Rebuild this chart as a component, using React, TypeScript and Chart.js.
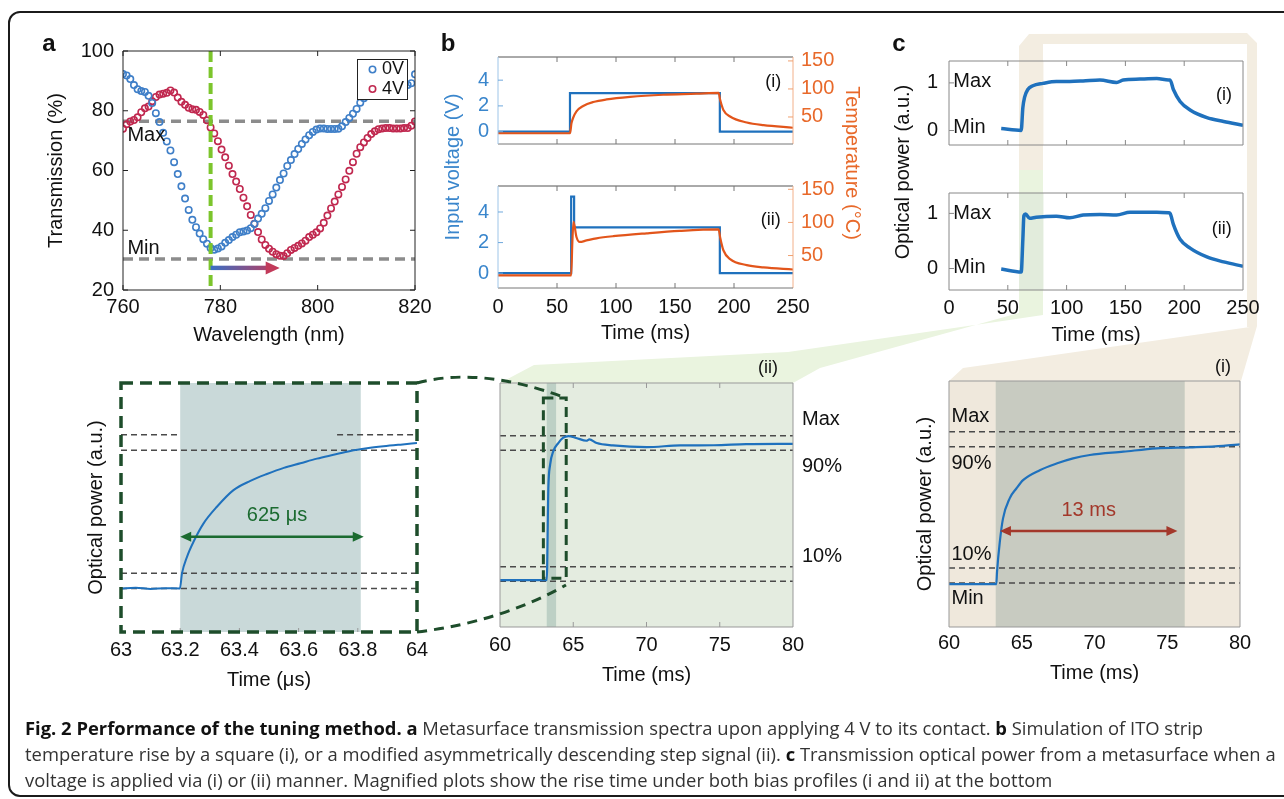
import React, { useEffect, useRef } from 'react';
import { Chart, registerables } from 'chart.js';
Chart.register(...registerables);

// ================= DATA =================
// Panel a: transmission spectra
const WAVELENGTH_NM = [
  760, 760.75, 761.5, 762.25, 763, 763.75, 764.5, 765.25, 766, 766.75,
  767.5, 768.25, 769, 769.75, 770.5, 771.25, 772, 772.75, 773.5, 774.25,
  775, 775.75, 776.5, 777.25, 778, 778.75, 779.5, 780.25, 781, 781.75,
  782.5, 783.25, 784, 784.75, 785.5, 786.25, 787, 787.75, 788.5, 789.25,
  790, 790.75, 791.5, 792.25, 793, 793.75, 794.5, 795.25, 796, 796.75,
  797.5, 798.25, 799, 799.75, 800.5, 801.25, 802, 802.75, 803.5, 804.25,
  805, 805.75, 806.5, 807.25, 808, 808.75, 809.5, 810.25, 811, 811.75,
  812.5, 813.25, 814, 814.75, 815.5, 816.25, 817, 817.75, 818.5, 819.25,
  820,
];
const T_0V = [
  92.3, 91.8, 90.6, 88.6, 87.2, 86.6, 86.3, 85.0, 82.6, 79.2,
  76.2, 72.6, 69.7, 66.7, 62.8, 58.8, 54.7, 50.6, 46.8, 43.5,
  41.0, 38.9, 37.0, 35.5, 34.1, 33.5, 33.9, 34.6, 35.8, 36.7,
  37.7, 38.5, 39.3, 39.6, 39.9, 40.7, 42.1, 43.9, 45.5, 47.4,
  49.8, 52.0, 54.3, 56.8, 59.0, 61.5, 63.5, 65.5, 67.2, 68.9,
  70.4, 71.8, 72.9, 73.7, 74.1, 74.1, 73.9, 73.9, 73.9, 74.0,
  74.8, 76.2, 77.6, 79.0, 80.6, 82.7, 84.2, 85.0, 85.8, 86.4,
  86.8, 87.2, 87.5, 87.8, 88.0, 88.2, 88.3, 88.5, 88.6, 89.2,
  92.2,
];
const T_4V = [
  74.0, 75.5, 76.4, 76.9, 77.8, 79.5, 80.8, 81.4, 83.2, 84.6,
  85.4, 85.7, 86.0, 86.8, 86.1, 84.4, 83.0, 82.0, 81.0, 80.5,
  80.3, 79.6, 78.6, 76.8, 74.4, 72.4, 69.8, 67.0, 64.4, 61.6,
  58.8, 56.3, 53.8, 50.9, 48.0, 45.1, 42.2, 39.4, 36.9, 35.1,
  33.8, 32.8, 32.0, 31.5, 31.4, 32.3, 33.4, 34.1, 34.8, 35.6,
  36.5, 37.7, 38.5, 39.3, 40.6, 42.5, 44.9, 47.3, 49.6, 52.0,
  54.5, 57.0, 59.9, 62.8, 65.6, 67.8, 69.4, 70.9, 72.2, 73.1,
  73.8, 74.1, 74.2, 74.2, 74.1, 74.1, 74.1, 74.2, 74.2, 75.0,
  76.4,
];
const SERIES_A = ['0V', '4V'];
const A_MAX_LEVEL = 76.5;
const A_MIN_LEVEL = 30.4;
const A_MARK_WL = 778;
const A_SHIFT_WL = 792.2;
const A_ARROW_T = 27.4;
const A_X_TICKS = [760, 780, 800, 820];
const A_Y_TICKS = [20, 40, 60, 80, 100];

// Panel b: simulated voltage / temperature
const B1_V_TIME = [0, 61, 61, 188, 188, 250];
const B1_VOLT = [0, 0, 3, 3, 0, 0];
const B1_T_TIME = [0, 61, 62.3, 63.7, 66.5, 72.2, 80.7, 92, 111.8, 140, 168, 187, 188.2, 191, 196.7, 210.8, 225, 250];
const B1_TEMP = [21, 21, 39, 48.6, 60, 69.6, 76.6, 81.3, 85.9, 89.7, 91.5, 93, 81, 62.6, 50.8, 40.2, 35.4, 30.8];
const B2_V_TIME = [0, 62, 62, 64.5, 64.5, 188, 188, 250];
const B2_VOLT = [0, 0, 5, 5, 3, 3, 0, 0];
const B2_T_TIME = [0, 62, 63, 64, 66.5, 69.3, 75, 83.5, 97.6, 126, 154, 187, 188.2, 191, 196.7, 210.8, 225, 250];
const B2_TEMP = [20, 20, 70, 101, 78, 70.5, 72.8, 76, 79.2, 83.6, 87.2, 89.4, 78, 58, 44.6, 35.6, 32.1, 28.9];
const TIME_TICKS = [0, 50, 100, 150, 200, 250];
const VOLT_TICKS = [0, 2, 4];
const TEMP_TICKS = [50, 100, 150];

// Panel c: measured optical power
const C1_TIME = [44.4, 61.4, 62.8, 64.3, 67, 71.3, 79.9, 91.3, 102.7, 114, 128.3, 142.5, 148.1, 162.4, 176.7, 186.6, 188, 190.8, 196.5, 205, 219.3, 233.5, 250];
const C1_POWER = [0.04, 0, 0.48, 0.7, 0.86, 0.94, 0.99, 1.03, 1.03, 1.04, 1.06, 1.01, 1.06, 1.08, 1.09, 1.06, 1.06, 0.86, 0.61, 0.43, 0.27, 0.19, 0.11];
const C2_TIME = [44.4, 61.4, 62.8, 63.7, 65.1, 68.5, 74.2, 91.3, 102.7, 114, 128.3, 142.5, 153.9, 176.7, 186.6, 188, 190.8, 196.5, 205, 219.3, 233.5, 250];
const C2_POWER = [-0.01, -0.065, 0.53, 0.96, 0.99, 0.91, 0.93, 0.95, 0.92, 0.97, 0.98, 0.97, 1.02, 1.02, 1.01, 1.0, 0.8, 0.53, 0.37, 0.21, 0.12, 0.04];
const C_BAND = [59.6, 80.3];
const POWER_TICKS = [0, 1];

// Bottom magnified plots
const D_TIME_US = [63, 63.05, 63.1, 63.15, 63.199, 63.206, 63.223, 63.245, 63.279, 63.324, 63.38, 63.437, 63.493, 63.55, 63.606, 63.662, 63.718, 63.775, 63.831, 63.887, 63.944, 64];
const D_POWER = [0.0, 0.005, -0.003, 0.002, 0.0, 0.098, 0.206, 0.304, 0.424, 0.532, 0.64, 0.70, 0.745, 0.785, 0.815, 0.845, 0.87, 0.895, 0.912, 0.925, 0.936, 0.946];
const D_X_TICKS = [63, 63.2, 63.4, 63.6, 63.8, 64];
const D_BAND = [63.2, 63.81];
const D_ARROW = [63.2, 63.82, 0.337];
const D_LABEL = '625 μs';

const E_TIME = [60, 63.19, 63.3, 63.42, 63.64, 63.98, 64.3, 64.67, 65.2, 65.9, 66.1, 66.6, 67.7, 70, 72.3, 74.6, 76.8, 80];
const E_POWER = [0.007, 0.007, 0.64, 0.8, 0.894, 0.95, 0.985, 0.997, 0.985, 0.966, 0.975, 0.95, 0.934, 0.922, 0.934, 0.935, 0.943, 0.945];
const E_BAND = [63.19, 63.83];
const E_INSET = [62.96, 64.52, 0.02, 1.26];

const F_TIME = [60, 63.25, 63.3, 63.49, 63.71, 64.17, 64.63, 65.09, 66.24, 67.39, 68.53, 69.68, 71.98, 74.27, 76.56, 78.85, 80];
const F_POWER = [-0.007, -0.007, 0.073, 0.27, 0.426, 0.56, 0.625, 0.68, 0.746, 0.79, 0.824, 0.846, 0.868, 0.89, 0.897, 0.907, 0.917];
const F_BAND = [63.21, 76.2];
const F_ARROW = [63.5, 75.7, 0.344];
const F_LABEL = '13 ms';

const ZOOM_X_TICKS = [60, 65, 70, 75, 80];
const RISE_LEVELS = [1, 0.9, 0.1, 0];
const RISE_LABELS = ['Max', '90%', '10%', 'Min'];

// ================= STYLE =================
const FONT = '"Liberation Sans", Arial, Helvetica, sans-serif';
const BLUE_PT = '#3f7fc8';
const RED_PT = '#c0284f';
const BLUE_LINE = '#1f71bd';
const ORANGE_LINE = '#e2551b';
const BLUE_TXT = '#3a86cc';
const ORANGE_TXT = '#e8692a';
const DARK_GREEN = '#1e4d2b';

const zip = (xs: number[], ys: number[]) => xs.map((x, i) => ({ x, y: ys[i] }));

function sc(o: any) {
  const isX = o.axis === 'x';
  return {
    type: 'linear',
    axis: o.axis,
    position: o.position,
    min: o.min,
    max: o.max,
    grid: { display: false, drawTicks: false },
    border: { display: false },
    afterBuildTicks: (s: any) => {
      s.ticks = o.ticks.map((v: number) => ({ value: v }));
    },
    afterFit: (s: any) => {
      if (isX) s.height = o.size;
      else s.width = o.size;
    },
    ticks: {
      display: !!o.labels,
      color: o.color || '#111',
      font: { family: FONT, size: 20 },
      padding: o.pad ?? 6,
      maxRotation: 0,
      minRotation: 0,
      autoSkip: false,
      callback: (v: number) => String(v),
    },
    title: o.title
      ? {
          display: true,
          text: o.title,
          color: o.color || '#111',
          font: { family: FONT, size: 20 },
          padding: isX ? { top: 0, bottom: o.titlePad ?? 0 } : { top: o.titlePad ?? 0, bottom: 0 },
        }
      : { display: false },
  };
}

// drawing helpers
function seg(ctx: any, x0: number, y0: number, x1: number, y1: number, color: string, width: number, dash: number[] = []) {
  ctx.save();
  ctx.strokeStyle = color;
  ctx.lineWidth = width;
  ctx.setLineDash(dash);
  ctx.beginPath();
  ctx.moveTo(x0, y0);
  ctx.lineTo(x1, y1);
  ctx.stroke();
  ctx.restore();
}
function head(ctx: any, x: number, y: number, dir: number, color: string, len: number, half: number) {
  ctx.save();
  ctx.fillStyle = color;
  ctx.beginPath();
  ctx.moveTo(x, y);
  ctx.lineTo(x - dir * len, y - half);
  ctx.lineTo(x - dir * len, y + half);
  ctx.closePath();
  ctx.fill();
  ctx.restore();
}
function dblArrow(chart: any, spec: number[], color: string) {
  const ctx = chart.ctx;
  const s = chart.scales;
  const x0 = s.x.getPixelForValue(spec[0]);
  const x1 = s.x.getPixelForValue(spec[1]);
  const y = s.y.getPixelForValue(spec[2]);
  seg(ctx, x0 + 8, y, x1 - 8, y, color, 2.5);
  head(ctx, x0, y, -1, color, 11, 5);
  head(ctx, x1, y, 1, color, 11, 5);
}
function txt(ctx: any, str: string, x: number, y: number, o: any = {}) {
  ctx.save();
  ctx.font = `${o.bold ? 'bold ' : ''}${o.size || 20}px ${FONT}`;
  ctx.fillStyle = o.color || '#111';
  ctx.textAlign = o.align || 'left';
  ctx.textBaseline = 'middle';
  ctx.fillText(str, x, y);
  ctx.restore();
}
function vtxt(chart: any, str: string, xv: number, yv: number, o: any = {}, yAxis = 'y') {
  const s = chart.scales;
  txt(chart.ctx, str, s.x.getPixelForValue(xv), s[yAxis].getPixelForValue(yv), o);
}
function frame(chart: any, col: any, w = 1) {
  const a = chart.chartArea;
  const ctx = chart.ctx;
  seg(ctx, a.left, a.top, a.right, a.top, col.t, w);
  seg(ctx, a.right, a.top, a.right, a.bottom, col.r, w);
  seg(ctx, a.left, a.bottom, a.right, a.bottom, col.b, w);
  seg(ctx, a.left, a.top, a.left, a.bottom, col.l, w);
}
function xTicks(chart: any, vals: number[], len: number, color: string, top: boolean, bottom: boolean) {
  const a = chart.chartArea;
  const s = chart.scales.x;
  vals.forEach((v) => {
    const x = s.getPixelForValue(v);
    if (bottom) seg(chart.ctx, x, a.bottom, x, a.bottom - len, color, 1);
    if (top) seg(chart.ctx, x, a.top, x, a.top + len, color, 1);
  });
}
function yTicks(chart: any, axis: string, vals: number[], len: number, color: string, side: string) {
  const a = chart.chartArea;
  const s = chart.scales[axis];
  vals.forEach((v) => {
    const y = s.getPixelForValue(v);
    if (side === 'left' || side === 'both') seg(chart.ctx, a.left, y, a.left + len, y, color, 1);
    if (side === 'right' || side === 'both') seg(chart.ctx, a.right, y, a.right - len, y, color, 1);
  });
}
function band(chart: any, x0: number, x1: number, color: string) {
  const a = chart.chartArea;
  const s = chart.scales.x;
  const p0 = s.getPixelForValue(x0);
  const p1 = s.getPixelForValue(x1);
  chart.ctx.save();
  chart.ctx.fillStyle = color;
  chart.ctx.fillRect(p0, a.top, p1 - p0, a.bottom - a.top);
  chart.ctx.restore();
}
function bg(chart: any, color: string) {
  const a = chart.chartArea;
  chart.ctx.save();
  chart.ctx.fillStyle = color;
  chart.ctx.fillRect(a.left, a.top, a.right - a.left, a.bottom - a.top);
  chart.ctx.restore();
}
function hlevel(chart: any, y: number, x0: number, x1: number, color: string, w: number, dash: number[]) {
  const s = chart.scales;
  const py = s.y.getPixelForValue(y);
  seg(chart.ctx, s.x.getPixelForValue(x0), py, s.x.getPixelForValue(x1), py, color, w, dash);
}

const LEVEL_COLOR = '#4a4a4a';
const LEVEL_DASH = [6, 4];

// ================= CHART SPECS =================
type Spec = any;

const specA: Spec = {
  C: { x0: 20, y0: 30, x1: 440, y1: 352 },
  P: { l: 123, t: 49, r: 415, b: 290 },
  type: 'scatter',
  x: { min: 760, max: 820, ticks: A_X_TICKS, labels: true, pad: 5, title: 'Wavelength (nm)', titlePad: 5 },
  y: { min: 20, max: 100, ticks: A_Y_TICKS, labels: true, pad: 9, title: 'Transmission (%)', titlePad: 24 },
  datasets: [
    {
      label: SERIES_A[0], data: zip(WAVELENGTH_NM, T_0V), pointRadius: 3.2, pointBorderWidth: 1.6,
      pointBorderColor: BLUE_PT, borderColor: BLUE_PT, pointBackgroundColor: 'rgba(0,0,0,0)', backgroundColor: 'rgba(0,0,0,0)', showLine: false,
    },
    {
      label: SERIES_A[1], data: zip(WAVELENGTH_NM, T_4V), pointRadius: 3.2, pointBorderWidth: 1.6,
      pointBorderColor: RED_PT, borderColor: RED_PT, pointBackgroundColor: 'rgba(0,0,0,0)', backgroundColor: 'rgba(0,0,0,0)', showLine: false,
    },
  ],
  deco: (chart: any, phase: string) => {
    const ctx = chart.ctx;
    const a = chart.chartArea;
    const s = chart.scales;
    if (phase === 'before') {
      hlevel(chart, A_MAX_LEVEL, 760, 820, '#8c8c8c', 3.5, [10, 6]);
      hlevel(chart, A_MIN_LEVEL, 760, 820, '#8c8c8c', 3.5, [10, 6]);
      return;
    }
    const gx = s.x.getPixelForValue(A_MARK_WL);
    seg(ctx, gx, a.top, gx, a.bottom, '#7cc52c', 4, [11, 5]);
    const ay = s.y.getPixelForValue(A_ARROW_T);
    const ax0 = s.x.getPixelForValue(A_MARK_WL);
    const ax1 = s.x.getPixelForValue(A_SHIFT_WL);
    const g = ctx.createLinearGradient(ax0, 0, ax1, 0);
    g.addColorStop(0, '#3a6fc4');
    g.addColorStop(1, '#c23a5a');
    ctx.save();
    ctx.fillStyle = g;
    ctx.fillRect(ax0, ay - 2.2, ax1 - ax0 - 12, 4.4);
    ctx.restore();
    head(ctx, ax1, ay, 1, '#c23a5a', 14, 6.5);
    vtxt(chart, 'Max', 760.9, 71.8);
    vtxt(chart, 'Min', 760.9, 33.8);
    // legend
    const lx = a.right - 58;
    const ly = a.top + 8;
    ctx.save();
    ctx.fillStyle = '#fff';
    ctx.fillRect(lx, ly, 50, 40);
    ctx.strokeStyle = '#222';
    ctx.lineWidth = 1;
    ctx.strokeRect(lx + 0.5, ly + 0.5, 50, 40);
    [BLUE_PT, RED_PT].forEach((c, i) => {
      const cy = ly + 10.5 + i * 19.5;
      ctx.beginPath();
      ctx.arc(lx + 15.5, cy, 3.2, 0, Math.PI * 2);
      ctx.strokeStyle = c;
      ctx.lineWidth = 1.6;
      ctx.stroke();
      txt(ctx, SERIES_A[i], lx + 25, cy, { size: 18 });
    });
    ctx.restore();
    frame(chart, { t: '#222', r: '#222', b: '#222', l: '#222' });
    xTicks(chart, A_X_TICKS, 5, '#222', true, true);
    yTicks(chart, 'y', A_Y_TICKS, 5, '#222', 'both');
  },
};

function bDeco(label: string, lx: number, ly: number) {
  return (chart: any, phase: string) => {
    if (phase === 'before') return;
    frame(chart, { t: '#555', r: '#f2b08a', b: '#777', l: '#9ec5e8' });
    xTicks(chart, [50, 100, 150, 200], 5, '#777', true, true);
    yTicks(chart, 'y', VOLT_TICKS, 5, '#6fa8dc', 'left');
    yTicks(chart, 'y2', TEMP_TICKS, 5, '#f0a070', 'right');
    vtxt(chart, label, lx, ly, { size: 18, align: 'center' });
  };
}

const specB1: Spec = {
  C: { x0: 430, y0: 36, x1: 872, y1: 165 },
  P: { l: 498, t: 46, r: 793, b: 157 },
  x: { min: 0, max: 250, ticks: TIME_TICKS, labels: false },
  y: { min: -0.96, max: 5.8, ticks: VOLT_TICKS, labels: true, pad: 9, color: BLUE_TXT },
  y2: { min: 1.8, max: 157, ticks: TEMP_TICKS, labels: true, pad: 8, color: ORANGE_TXT },
  datasets: [
    { data: zip(B1_T_TIME, B1_TEMP), yAxisID: 'y2', borderColor: ORANGE_LINE, borderWidth: 2.2, pointRadius: 0, cubicInterpolationMode: 'monotone', fill: false },
    { data: zip(B1_V_TIME, B1_VOLT), yAxisID: 'y', borderColor: BLUE_LINE, borderWidth: 2.2, pointRadius: 0, tension: 0, fill: false },
  ],
  deco: bDeco('(i)', 233.3, 3.85),
};
const specB2: Spec = {
  C: { x0: 430, y0: 165, x1: 872, y1: 352 },
  P: { l: 498, t: 173, r: 793, b: 288 },
  x: { min: 0, max: 250, ticks: TIME_TICKS, labels: true, pad: 7, title: 'Time (ms)', titlePad: 6.7 },
  y: { min: -0.97, max: 5.7, ticks: VOLT_TICKS, labels: true, pad: 9, color: BLUE_TXT },
  y2: { min: 1, max: 155, ticks: TEMP_TICKS, labels: true, pad: 8, color: ORANGE_TXT },
  datasets: [
    { data: zip(B2_T_TIME, B2_TEMP), yAxisID: 'y2', borderColor: ORANGE_LINE, borderWidth: 2.2, pointRadius: 0, cubicInterpolationMode: 'monotone', fill: false },
    { data: zip(B2_V_TIME, B2_VOLT), yAxisID: 'y', borderColor: BLUE_LINE, borderWidth: 2.2, pointRadius: 0, tension: 0, fill: false },
  ],
  deco: bDeco('(ii)', 231.1, 3.45),
};

function cDeco(label: string, lx: number, ly: number, bandColor: string, maxY: number, minY: number) {
  return (chart: any, phase: string) => {
    if (phase === 'before') {
      band(chart, C_BAND[0], C_BAND[1], bandColor);
      return;
    }
    frame(chart, { t: '#888', r: '#888', b: '#888', l: '#888' });
    xTicks(chart, [50, 100, 150, 200], 5, '#888', true, true);
    yTicks(chart, 'y', POWER_TICKS, 5, '#888', 'left');
    vtxt(chart, RISE_LABELS[0], 3.7, maxY);
    vtxt(chart, RISE_LABELS[3], 3.7, minY);
    vtxt(chart, label, lx, ly, { size: 18, align: 'center' });
  };
}

const specC1: Spec = {
  C: { x0: 880, y0: 38, x1: 1272, y1: 168 },
  P: { l: 949, t: 49, r: 1243, b: 159 },
  x: { min: 0, max: 250, ticks: TIME_TICKS, labels: false },
  y: { min: -0.305, max: 1.46, ticks: POWER_TICKS, labels: true, pad: 11 },
  datasets: [
    { data: zip(C1_TIME, C1_POWER), borderColor: BLUE_LINE, borderWidth: 3.5, pointRadius: 0, cubicInterpolationMode: 'monotone', fill: false },
  ],
  deco: cDeco('(i)', 233.8, 0.74, '#f3ede1', 1.04, 0.06),
};
const specC2: Spec = {
  C: { x0: 880, y0: 170, x1: 1272, y1: 352 },
  P: { l: 949, t: 182, r: 1243, b: 290 },
  x: { min: 0, max: 250, ticks: TIME_TICKS, labels: true, pad: 6, title: 'Time (ms)', titlePad: 5 },
  y: { min: -0.39, max: 1.37, ticks: POWER_TICKS, labels: true, pad: 11 },
  datasets: [
    { data: zip(C2_TIME, C2_POWER), borderColor: BLUE_LINE, borderWidth: 3.5, pointRadius: 0, cubicInterpolationMode: 'monotone', fill: false },
  ],
  deco: cDeco('(ii)', 231.9, 0.72, '#e2ecdc', 1.0, 0.02),
};

const specD: Spec = {
  C: { x0: 66, y0: 360, x1: 445, y1: 702 },
  P: { l: 121, t: 383, r: 417, b: 632 },
  x: { min: 63, max: 64, ticks: D_X_TICKS, labels: true, pad: 6, title: 'Time (μs)', titlePad: 10 },
  y: { min: -0.283, max: 1.337, ticks: [], labels: false, title: 'Optical power (a.u.)', titlePad: 18.7 },
  datasets: [
    { data: zip(D_TIME_US, D_POWER), borderColor: BLUE_LINE, borderWidth: 2, pointRadius: 0, cubicInterpolationMode: 'monotone', fill: false },
  ],
  deco: (chart: any, phase: string) => {
    const a = chart.chartArea;
    if (phase === 'before') {
      band(chart, D_BAND[0], D_BAND[1], '#c9d9d9');
      hlevel(chart, RISE_LEVELS[0], 63, D_BAND[0], LEVEL_COLOR, 1.5, LEVEL_DASH);
      hlevel(chart, RISE_LEVELS[0], 63.73, 64, LEVEL_COLOR, 1.5, LEVEL_DASH);
      hlevel(chart, RISE_LEVELS[1], 63, 64, LEVEL_COLOR, 1.5, LEVEL_DASH);
      hlevel(chart, RISE_LEVELS[2], 63, 64, LEVEL_COLOR, 1.5, LEVEL_DASH);
      hlevel(chart, RISE_LEVELS[3], 63, 64, LEVEL_COLOR, 1.5, LEVEL_DASH);
      return;
    }
    dblArrow(chart, D_ARROW, '#1b6b30');
    vtxt(chart, D_LABEL, 63.527, 0.478, { color: '#1b6b30', align: 'center' });
    xTicks(chart, [63.2, 63.4, 63.6, 63.8], 4, '#999', false, true);
    const ctx = chart.ctx;
    ctx.save();
    ctx.strokeStyle = DARK_GREEN;
    ctx.lineWidth = 3.5;
    ctx.setLineDash([12, 7]);
    ctx.strokeRect(a.left, a.top, a.right - a.left, a.bottom - a.top);
    ctx.restore();
  },
};

const specE: Spec = {
  C: { x0: 470, y0: 350, x1: 880, y1: 702 },
  P: { l: 500, t: 383, r: 793, b: 627 },
  x: { min: 60, max: 80, ticks: ZOOM_X_TICKS, labels: true, pad: 6, title: 'Time (ms)', titlePad: 15 },
  y: { min: -0.315, max: 1.363, ticks: [], labels: false },
  datasets: [
    { data: zip(E_TIME, E_POWER), borderColor: BLUE_LINE, borderWidth: 2.2, pointRadius: 0, cubicInterpolationMode: 'monotone', fill: false },
  ],
  deco: (chart: any, phase: string) => {
    const a = chart.chartArea;
    const s = chart.scales;
    if (phase === 'before') {
      bg(chart, '#e4ece0');
      band(chart, E_BAND[0], E_BAND[1], '#bdd0c5');
      RISE_LEVELS.forEach((v) => hlevel(chart, v, 60, 80, LEVEL_COLOR, 1.5, LEVEL_DASH));
      return;
    }
    const ctx = chart.ctx;
    const x0 = s.x.getPixelForValue(E_INSET[0]);
    const x1 = s.x.getPixelForValue(E_INSET[1]);
    const y0 = s.y.getPixelForValue(E_INSET[3]);
    const y1 = s.y.getPixelForValue(E_INSET[2]);
    ctx.save();
    ctx.strokeStyle = DARK_GREEN;
    ctx.lineWidth = 3;
    ctx.setLineDash([10, 6]);
    ctx.strokeRect(x0, y0, x1 - x0, y1 - y0);
    ctx.restore();
    frame(chart, { t: '#999', r: '#999', b: '#999', l: '#999' });
    xTicks(chart, [65, 70, 75], 5, '#999', true, true);
    const tx = a.right + 9;
    txt(ctx, RISE_LABELS[0], tx, s.y.getPixelForValue(1.11));
    txt(ctx, RISE_LABELS[1], tx, s.y.getPixelForValue(0.79));
    txt(ctx, RISE_LABELS[2], tx, s.y.getPixelForValue(0.17));
    vtxt(chart, '(ii)', 78.3, 1.469, { size: 18, align: 'center' });
  },
};

const specF: Spec = {
  C: { x0: 900, y0: 350, x1: 1280, y1: 702 },
  P: { l: 949, t: 381, r: 1240, b: 627 },
  x: { min: 60, max: 80, ticks: ZOOM_X_TICKS, labels: true, pad: 4, title: 'Time (ms)', titlePad: 16.7 },
  y: { min: -0.29, max: 1.335, ticks: [], labels: false, title: 'Optical power (a.u.)', titlePad: 13 },
  datasets: [
    { data: zip(F_TIME, F_POWER), borderColor: BLUE_LINE, borderWidth: 2.2, pointRadius: 0, cubicInterpolationMode: 'monotone', fill: false },
  ],
  deco: (chart: any, phase: string) => {
    if (phase === 'before') {
      bg(chart, '#efe8dc');
      band(chart, F_BAND[0], F_BAND[1], '#c8cbc1');
      RISE_LEVELS.forEach((v) => hlevel(chart, v, 60, 80, LEVEL_COLOR, 1.5, LEVEL_DASH));
      return;
    }
    dblArrow(chart, F_ARROW, '#a3382b');
    vtxt(chart, F_LABEL, 69.6, 0.478, { color: '#a3382b', align: 'center' });
    frame(chart, { t: '#999', r: '#999', b: '#999', l: '#999' });
    vtxt(chart, RISE_LABELS[0], 60.17, 1.10);
    vtxt(chart, RISE_LABELS[1], 60.17, 0.79);
    vtxt(chart, RISE_LABELS[2], 60.17, 0.19);
    vtxt(chart, RISE_LABELS[3], 60.17, -0.10);
    vtxt(chart, '(i)', 78.83, 1.428, { size: 18, align: 'center' });
  },
};

// ================= COMPONENTS =================
function ChartCanvas({ spec }: { spec: Spec }) {
  const ref = useRef<HTMLCanvasElement | null>(null);
  const { C, P } = spec;
  const w = C.x1 - C.x0;
  const h = C.y1 - C.y0;
  useEffect(() => {
    if (!ref.current) return;
    const scales: any = {
      x: sc({ ...spec.x, axis: 'x', position: 'bottom', size: C.y1 - P.b }),
      y: sc({ ...spec.y, axis: 'y', position: 'left', size: P.l - C.x0 }),
    };
    if (spec.y2) scales.y2 = sc({ ...spec.y2, axis: 'y', position: 'right', size: C.x1 - P.r });
    const chart = new Chart(ref.current, {
      type: spec.type || 'line',
      data: { datasets: spec.datasets },
      options: {
        animation: false,
        responsive: false,
        maintainAspectRatio: false,
        devicePixelRatio: 1,
        events: [],
        layout: { padding: { left: 0, top: P.t - C.y0, right: spec.y2 ? 0 : C.x1 - P.r, bottom: 0 } },
        plugins: { legend: { display: false }, tooltip: { enabled: false }, title: { display: false } },
        scales,
      },
      plugins: [
        {
          id: 'deco',
          beforeDatasetsDraw: (c: any) => spec.deco(c, 'before'),
          afterDatasetsDraw: (c: any) => spec.deco(c, 'after'),
        },
      ],
    } as any);
    return () => chart.destroy();
  }, []);
  return (
    <canvas
      ref={ref}
      width={w}
      height={h}
      style={{ position: 'absolute', left: C.x0, top: C.y0, width: w, height: h }}
    />
  );
}

function Label({ x, y, text, size = 20, color = '#111', rot = 0, bold = false, family = FONT }: any) {
  return (
    <div
      style={{
        position: 'absolute',
        left: x,
        top: y,
        transform: `translate(-50%, -50%) rotate(${rot}deg)`,
        fontFamily: family,
        fontSize: size,
        fontWeight: bold ? 700 : 400,
        color,
        whiteSpace: 'nowrap',
        lineHeight: 1,
      }}
    >
      {text}
    </div>
  );
}

const TAN_POLY = '1019,170 1019,46 1029,34 1247,33 1257,43 1257,326 1241,381 949,381 963,368 1250,327 1247,327 1247,44 1043,44 1043,170';
const GREEN_POLY = '1019,170 1043,170 1043,315 788,352 534,365 500,383 793,383 820,368 1019,313';

export default function App() {
  return (
    <div style={{ position: 'absolute', left: 0, top: 0, width: 1284, height: 799, overflow: 'hidden', background: '#fff' }}>
      <svg width={1284} height={799} style={{ position: 'absolute', left: 0, top: 0 }}>
        <polygon points={TAN_POLY} fill="#f3ede1" />
        <polygon points={GREEN_POLY} fill="#eaf4df" />
      </svg>
      <div
        style={{
          position: 'absolute', left: 8, top: 11, width: 1320, height: 786,
          border: '2px solid #1b1b1b', borderRadius: 12, boxSizing: 'border-box',
        }}
      />
      <ChartCanvas spec={specA} />
      <ChartCanvas spec={specB1} />
      <ChartCanvas spec={specB2} />
      <ChartCanvas spec={specC1} />
      <ChartCanvas spec={specC2} />
      <ChartCanvas spec={specD} />
      <ChartCanvas spec={specE} />
      <ChartCanvas spec={specF} />
      <svg width={1284} height={799} style={{ position: 'absolute', left: 0, top: 0, pointerEvents: 'none' }}>
        <path d="M417,383 Q480,366 566,398" stroke={DARK_GREEN} strokeWidth={3} strokeDasharray="10 7" fill="none" />
        <path d="M417,632 Q500,622 566,585" stroke={DARK_GREEN} strokeWidth={3} strokeDasharray="10 7" fill="none" />
      </svg>
      <Label x={49} y={43} text="a" size={24} bold />
      <Label x={448} y={43} text="b" size={24} bold />
      <Label x={899} y={43} text="c" size={24} bold />
      <Label x={452} y={167} text="Input voltage (V)" color={BLUE_TXT} rot={-90} />
      <Label x={853} y={163} text="Temperature (°C)" color={ORANGE_TXT} rot={90} />
      <Label x={902} y={172} text="Optical power (a.u.)" rot={-90} />
      <div
        style={{
          position: 'absolute', left: 25, top: 715, fontFamily: '"Open Sans", sans-serif',
          fontSize: 18.4, lineHeight: '26px', color: '#333', whiteSpace: 'nowrap',
        }}
      >
        <div>
          <b style={{ color: '#111' }}>Fig. 2 Performance of the tuning method.</b> <b style={{ color: '#111' }}>a</b> Metasurface
          transmission spectra upon applying 4 V to its contact. <b style={{ color: '#111' }}>b</b> Simulation of ITO strip
        </div>
        <div>
          temperature rise by a square (i), or a modified asymmetrically descending step signal (ii).{' '}
          <b style={{ color: '#111' }}>c</b> Transmission optical power from a metasurface when a
        </div>
        <div>
          voltage is applied via (i) or (ii) manner. Magnified plots show the rise time under both bias profiles (i and ii)
          at the bottom
        </div>
      </div>
    </div>
  );
}
